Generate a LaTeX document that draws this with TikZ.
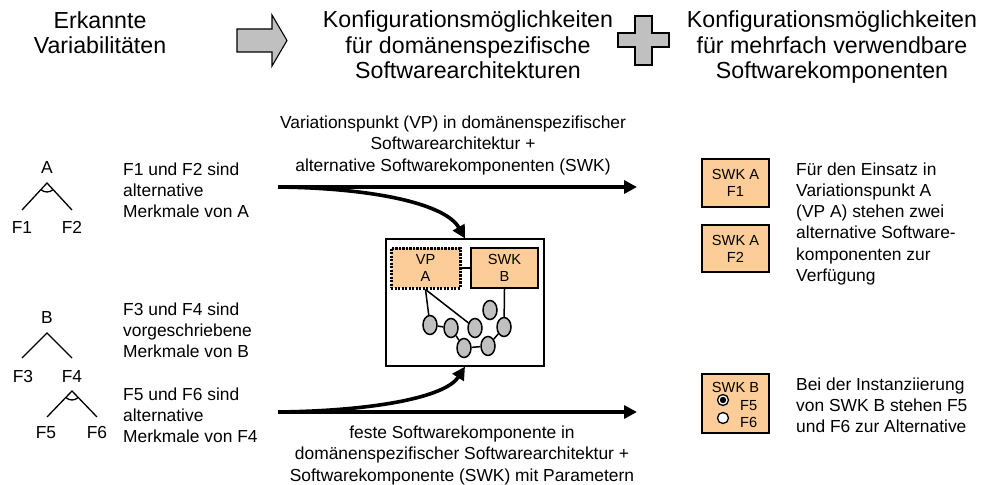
\documentclass[tikz,border=0pt]{standalone}
\usepackage{fontspec}
\setmainfont{Liberation Sans}
\usetikzlibrary{arrows.meta,shapes.geometric}
\definecolor{boxfill}{RGB}{252,204,153}
\definecolor{shapegray}{RGB}{192,192,192}
\begin{document}
\begin{tikzpicture}[x=1pt,y=-1pt,
  hdr/.style={font=\fontsize{23.2}{25.5}\selectfont, align=center, inner sep=0, anchor=base},
  body/.style={font=\fontsize{17.4}{21.3}\selectfont, align=left, inner sep=0, anchor=base west},
  lbl/.style={font=\fontsize{17.4}{21.7}\selectfont, align=center, inner sep=0, anchor=base},
  feat/.style={font=\fontsize{17.4}{21}\selectfont, inner sep=0, anchor=base},
  tree/.style={line width=1.3},
  bigarrow/.style={line width=3.6, -{Triangle[length=13,width=13]}},
  comp/.style={draw, line width=2.4, fill=boxfill, inner sep=0, align=center,
    font=\fontsize{14.6}{17}\selectfont},
  vpstyle/.style={dash pattern=on 2.2pt off 1.3pt, line width=3},
  ell/.style={ellipse, draw, fill=shapegray, line width=1.5, minimum width=14, minimum height=19, inner sep=0},
  thinline/.style={line width=1.5},
  bigshape/.style={draw, line width=1.1, fill=shapegray}
]
\useasboundingbox (0,0) rectangle (981,484);
% headers (base anchor = baseline of the last line)
\node[hdr] (h1) at (100,54) {Erkannte\\Variabilitäten};
\node[hdr] (h2) at (468,79) {Konfigurationsmöglichkeiten\\für domänenspezifische\\Softwarearchitekturen};
\node[hdr] (h3) at (832,79) {Konfigurationsmöglichkeiten\\für mehrfach verwendbare\\Softwarekomponenten};
% block arrow and plus
\draw[bigshape] (237,29) -- (272,29) -- (272,15) -- (287,40.5) -- (272,66) -- (272,52) -- (237,52) -- cycle;
\draw[bigshape] (635,16) -- (652,16) -- (652,33) -- (669,33) -- (669,47) -- (652,47) -- (652,65)
  -- (635,65) -- (635,47) -- (618,47) -- (618,33) -- (635,33) -- cycle;
% tree A
\node[feat] (tA) at (47,173) {A};
\coordinate (a0) at (47,183);
\coordinate (a1) at (22,210);
\coordinate (a2) at (72,210);
\draw[tree] (a1) -- (a0) -- (a2);
\draw[tree] (a0) ++(47.2:9) arc[start angle=47.2, end angle=132.8, radius=9];
\node[feat] (f1) at (22,233) {F1};
\node[feat] (f2) at (72,233) {F2};
% tree B
\node[feat] (tB) at (47,323) {B};
\coordinate (b0) at (47,333);
\coordinate (b1) at (22,358);
\coordinate (b2) at (72,358);
\draw[tree] (b1) -- (b0) -- (b2);
\node[feat] (f3) at (23,382) {F3};
\node[feat] (f4) at (72,382) {F4};
% tree F4
\coordinate (c0) at (72,391);
\coordinate (c1) at (47,417);
\coordinate (c2) at (97,417);
\draw[tree] (c1) -- (c0) -- (c2);
\draw[tree] (c0) ++(46.1:9) arc[start angle=46.1, end angle=133.9, radius=9];
\node[feat] (f5) at (46,438) {F5};
\node[feat] (f6) at (97,438) {F6};
% left labels
\node[body] (la) at (123,217.6) {F1 und F2 sind\\alternative\\Merkmale von A};
\node[body] (lb) at (123,357.6) {F3 und F4 sind\\vorgeschriebene\\Merkmale von B};
\node[body] (lc) at (123,442.6) {F5 und F6 sind\\alternative\\Merkmale von F4};
% arrow labels
\node[lbl] (lt) at (453,171.4) {Variationspunkt (VP) in domänenspezifischer\\Softwarearchitektur +\\alternative Softwarekomponenten (SWK)};
\node[lbl] (lbot) at (462,481.5) {feste Softwarekomponente in\\domänenspezifischer Softwarearchitektur +\\Softwarekomponente (SWK) mit Parametern};
% architecture box
\node[draw, line width=1.1, minimum width=158, minimum height=127, inner sep=0] (arch) at (465,302.5) {};
\node[comp, vpstyle, minimum width=69, minimum height=40] (vpa) at (425.5,268) {VP\\A};
\node[comp, line width=2.2, minimum width=67, minimum height=40] (swkb) at (504.5,268) {SWK\\B};
\draw[thinline] (vpa) -- (swkb);
\node[ell] (e1) at (430,325) {};
\node[ell] (e2) at (451,328) {};
\node[ell] (e3) at (475,328) {};
\node[ell] (e4) at (490,310) {};
\node[ell] (e5) at (504,327) {};
\node[ell] (e6) at (464,348) {};
\node[ell] (e7) at (488,346) {};
\draw[thinline] (vpa.south) -- (e1);
\draw[thinline] (vpa.south) -- (e3);
\draw[thinline] (swkb.south) -- (e5);
\draw[thinline] (e1) -- (e2);
\draw[thinline] (e2) -- (e6);
\draw[thinline] (e6) -- (e7);
\draw[thinline] (e7) -- (e5);
% big arrows
\coordinate (ts) at (278,187);
\coordinate (te) at (637,187);
\coordinate (bs) at (278,412);
\coordinate (be) at (637,412);
\draw[bigarrow] (ts) -- (te);
\draw[bigarrow] (bs) -- (be);
\draw[bigarrow] (ts) .. controls (370,188) and (445,203) .. (arch.north);
\draw[bigarrow] (bs) .. controls (370,411) and (445,398) .. (arch.south);
% right components
\node[comp, minimum width=67, minimum height=48] (sa1) at (735.5,183) {SWK A\\F1};
\node[comp, minimum width=67, minimum height=47] (sa2) at (735.5,248.5) {SWK A\\F2};
\node[comp, minimum width=67, minimum height=59] (sb) at (735.5,403.5) {};
\node[font=\fontsize{14.6}{17}\selectfont, inner sep=0, anchor=base] (sbt) at (735.5,392) {SWK B};
\node[circle, draw, fill=white, line width=1.3, minimum size=11, inner sep=0] (r1) at (723,400) {};
\fill (r1.center) circle[radius=3.2];
\node[circle, draw, fill=white, line width=1.3, minimum size=11, inner sep=0] (r2) at (723,418) {};
\node[font=\fontsize{14.6}{17}\selectfont, inner sep=0, anchor=base west] (o5) at (740,410) {F5};
\node[font=\fontsize{14.6}{17}\selectfont, inner sep=0, anchor=base west] (o6) at (740,427) {F6};
% right texts
\node[body] (ra) at (796,281.5) {Für den Einsatz in\\Variationspunkt A\\(VP A) stehen zwei\\alternative Software-\\komponenten zur\\Verfügung};
\node[body] (rb) at (796,432.6) {Bei der Instanziierung\\von SWK B stehen F5\\und F6 zur Alternative};
\end{tikzpicture}
\end{document}
